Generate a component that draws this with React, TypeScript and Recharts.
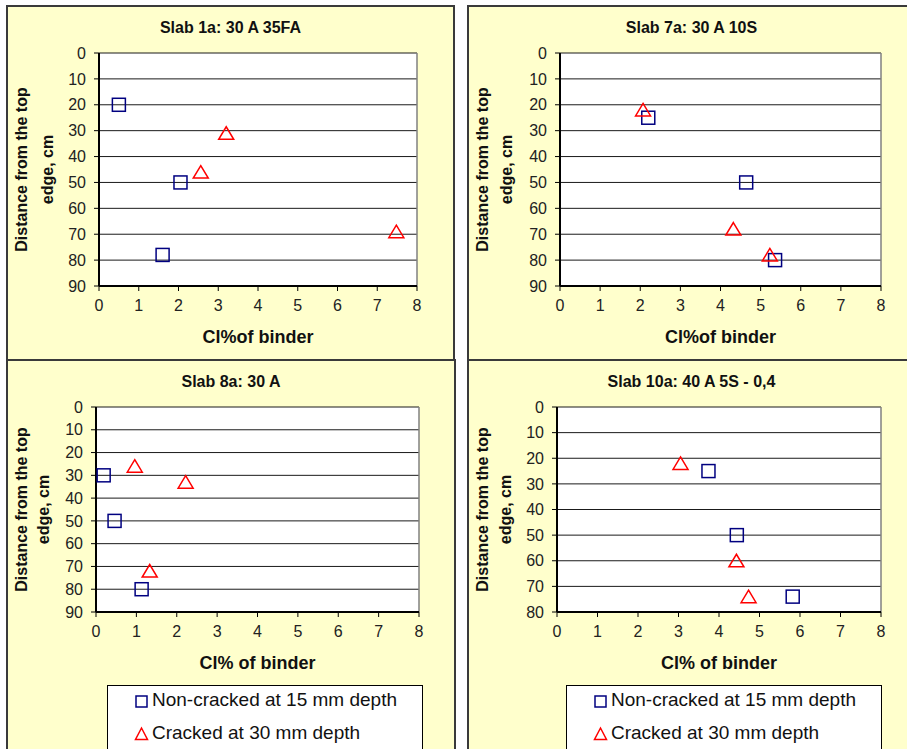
import React from 'react'
import {
  ScatterChart,
  Scatter,
  XAxis,
  YAxis,
  CartesianGrid,
  ReferenceLine,
  Label,
} from 'recharts'

type Point = { cl: number; depth: number }

// Cl% of binder vs. depth (cm) for each slab
const slab1aNonCracked: Point[] = [
  { cl: 0.5, depth: 20 },
  { cl: 2.05, depth: 50 },
  { cl: 1.6, depth: 78 },
]
const slab1aCracked: Point[] = [
  { cl: 3.2, depth: 31 },
  { cl: 2.56, depth: 46 },
  { cl: 7.48, depth: 69 },
]

const slab7aNonCracked: Point[] = [
  { cl: 2.2, depth: 25 },
  { cl: 4.64, depth: 50 },
  { cl: 5.36, depth: 80 },
]
const slab7aCracked: Point[] = [
  { cl: 2.07, depth: 22 },
  { cl: 4.32, depth: 68 },
  { cl: 5.23, depth: 78 },
]

const slab8aNonCracked: Point[] = [
  { cl: 0.19, depth: 30 },
  { cl: 0.46, depth: 50 },
  { cl: 1.13, depth: 80 },
]
const slab8aCracked: Point[] = [
  { cl: 0.96, depth: 26 },
  { cl: 2.22, depth: 33 },
  { cl: 1.33, depth: 72 },
]

const slab10aNonCracked: Point[] = [
  { cl: 3.74, depth: 25 },
  { cl: 4.44, depth: 50 },
  { cl: 5.82, depth: 74 },
]
const slab10aCracked: Point[] = [
  { cl: 3.05, depth: 22 },
  { cl: 4.43, depth: 60 },
  { cl: 4.73, depth: 74 },
]

const clTicks = [0, 1, 2, 3, 4, 5, 6, 7, 8]
const depthTicks90 = [0, 10, 20, 30, 40, 50, 60, 70, 80, 90]
const depthTicks80 = [0, 10, 20, 30, 40, 50, 60, 70, 80]

const legendLabels = ['Non-cracked at 15 mm depth', 'Cracked at 30 mm depth']

const FONT = '"Liberation Sans", Arial, sans-serif'
const NAVY = '#000080'
const RED = '#ff0000'

const SquareMark = (props: any) => {
  const { cx, cy } = props
  return (
    <rect x={cx - 6.5} y={cy - 6.5} width={13} height={13} fill="none" stroke={NAVY} strokeWidth={1.5} />
  )
}

const TriangleMark = (props: any) => {
  const { cx, cy } = props
  const pts = `${cx},${cy - 6.5} ${cx + 7.5},${cy + 6} ${cx - 7.5},${cy + 6}`
  return <polygon points={pts} fill="none" stroke={RED} strokeWidth={1.5} />
}

type PanelProps = {
  title: string
  xTitle: string
  left: number
  top: number
  width: number
  height: number
  yAxisWidth: number
  marginRight: number
  marginBottom: number
  yMax: number
  yTicks: number[]
  nonCracked: Point[]
  cracked: Point[]
  line1X: number
  line2X: number
}

function SlabPanel(p: PanelProps) {
  return (
    <div style={{ position: 'absolute', left: p.left, top: p.top, width: p.width, height: p.height }}>
      <div
        style={{
          position: 'absolute',
          left: 0,
          top: 13,
          width: p.width,
          textAlign: 'center',
          fontFamily: FONT,
          fontWeight: 'bold',
          fontSize: 16,
          color: '#111',
        }}
      >
        {p.title}
      </div>
      <ScatterChart
        width={p.width}
        height={p.height}
        margin={{ top: 47, right: p.marginRight, left: 0, bottom: p.marginBottom }}
      >
        <CartesianGrid vertical={false} stroke="#1a1a1a" fill="#ffffff" />
        <XAxis
          type="number"
          dataKey="cl"
          domain={[0, 8]}
          ticks={clTicks}
          interval={0}
          height={50}
          tickSize={5}
          tickMargin={9}
          axisLine={{ stroke: '#000', strokeWidth: 2 }}
          tickLine={{ stroke: '#000' }}
          tick={{ fill: '#222', fontSize: 16, fontFamily: FONT }}
        >
          <Label
            content={(props: any) => {
              const vb = props.viewBox
              return (
                <text
                  x={vb.x + vb.width / 2}
                  y={vb.y + 51}
                  textAnchor="middle"
                  dominantBaseline="central"
                  fontFamily={FONT}
                  fontWeight="bold"
                  fontSize={18}
                  fill="#111"
                >
                  {p.xTitle}
                </text>
              )
            }}
          />
        </XAxis>
        <YAxis
          type="number"
          dataKey="depth"
          reversed
          domain={[0, p.yMax]}
          ticks={p.yTicks}
          interval={0}
          width={p.yAxisWidth}
          tickSize={5}
          tickMargin={8}
          axisLine={{ stroke: '#000', strokeWidth: 2 }}
          tickLine={{ stroke: '#000' }}
          tick={{ fill: '#222', fontSize: 16, fontFamily: FONT }}
        >
          <Label
            content={(props: any) => {
              const vb = props.viewBox
              const cy = vb.y + vb.height / 2
              return (
                <g fontFamily={FONT} fontWeight="bold" fontSize={16} fill="#111">
                  <text
                    x={p.line1X}
                    y={cy}
                    textAnchor="middle"
                    dominantBaseline="central"
                    transform={`rotate(-90 ${p.line1X} ${cy})`}
                  >
                    Distance from the top
                  </text>
                  <text
                    x={p.line2X}
                    y={cy}
                    textAnchor="middle"
                    dominantBaseline="central"
                    transform={`rotate(-90 ${p.line2X} ${cy})`}
                  >
                    edge, cm
                  </text>
                </g>
              )
            }}
          />
        </YAxis>
        <ReferenceLine x={8} stroke="#808080" strokeWidth={1.5} />
        <Scatter
          name={legendLabels[0]}
          data={p.nonCracked}
          shape={SquareMark}
          isAnimationActive={false}
        />
        <Scatter
          name={legendLabels[1]}
          data={p.cracked}
          shape={TriangleMark}
          isAnimationActive={false}
        />
      </ScatterChart>
    </div>
  )
}

function LegendBox({ left, top }: { left: number; top: number }) {
  return (
    <div
      style={{
        position: 'absolute',
        left,
        top,
        width: 314,
        height: 90,
        background: '#fff',
        border: '1px solid #000',
        fontFamily: FONT,
        fontSize: 19,
        color: '#111',
      }}
    >
      <svg style={{ position: 'absolute', left: 0, top: 0 }} width={60} height={70}>
        <rect x={28} y={10} width={11} height={11} fill="none" stroke={NAVY} strokeWidth={1.5} />
        <polygon points="33.5,42 39.5,53.5 27.5,53.5" fill="none" stroke={RED} strokeWidth={1.5} />
      </svg>
      <div style={{ position: 'absolute', left: 44, top: 3, whiteSpace: 'nowrap' }}>{legendLabels[0]}</div>
      <div style={{ position: 'absolute', left: 44, top: 36, whiteSpace: 'nowrap' }}>{legendLabels[1]}</div>
    </div>
  )
}

const panelBox = (left: number, top: number, width: number, height: number) => ({
  position: 'absolute' as const,
  left,
  top,
  width,
  height,
  boxSizing: 'border-box' as const,
  background: '#ffffcc',
  border: '2px solid #3a3a3a',
})

export default function App() {
  return (
    <div
      style={{
        position: 'absolute',
        left: 0,
        top: 0,
        width: 907,
        height: 749,
        overflow: 'hidden',
        background: '#fff',
      }}
    >
      <div style={panelBox(6, 5, 449, 356)} />
      <div style={panelBox(467, 5, 460, 356)} />
      <div style={panelBox(6, 359, 450, 410)} />
      <div style={panelBox(467, 359, 460, 410)} />

      <SlabPanel
        title="Slab 1a: 30 A 35FA"
        xTitle="Cl%of binder"
        left={7}
        top={6}
        width={447}
        height={354}
        yAxisWidth={92}
        marginRight={37}
        marginBottom={24}
        yMax={90}
        yTicks={depthTicks90}
        nonCracked={slab1aNonCracked}
        cracked={slab1aCracked}
        line1X={14}
        line2X={40}
      />
      <SlabPanel
        title="Slab 7a: 30 A 10S"
        xTitle="Cl%of binder"
        left={468}
        top={6}
        width={447}
        height={354}
        yAxisWidth={92}
        marginRight={34}
        marginBottom={24}
        yMax={90}
        yTicks={depthTicks90}
        nonCracked={slab7aNonCracked}
        cracked={slab7aCracked}
        line1X={14}
        line2X={38}
      />
      <SlabPanel
        title="Slab 8a: 30 A"
        xTitle="Cl% of binder"
        left={7}
        top={360}
        width={448}
        height={389}
        yAxisWidth={89}
        marginRight={36}
        marginBottom={87}
        yMax={90}
        yTicks={depthTicks90}
        nonCracked={slab8aNonCracked}
        cracked={slab8aCracked}
        line1X={14}
        line2X={36}
      />
      <SlabPanel
        title="Slab 10a: 40 A 5S - 0,4"
        xTitle="Cl% of binder"
        left={468}
        top={360}
        width={447}
        height={389}
        yAxisWidth={89}
        marginRight={34}
        marginBottom={87}
        yMax={80}
        yTicks={depthTicks80}
        nonCracked={slab10aNonCracked}
        cracked={slab10aCracked}
        line1X={14}
        line2X={37}
      />

      <LegendBox left={107} top={685} />
      <LegendBox left={566} top={685} />
    </div>
  )
}
